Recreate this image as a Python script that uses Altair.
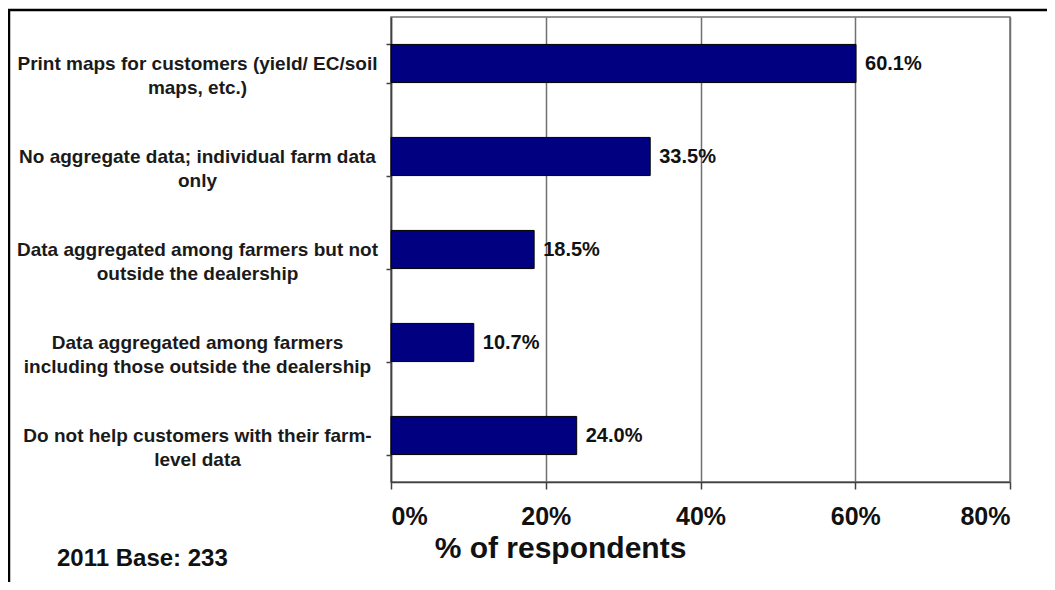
import altair as alt
import pandas as pd

categories = [
    "Print maps for customers (yield/ EC/soil\nmaps, etc.)",
    "No aggregate data; individual farm data\nonly",
    "Data aggregated among farmers but not\noutside the dealership",
    "Data aggregated among farmers\nincluding those outside the dealership",
    "Do not help customers with their farm-\nlevel data",
]
values = [60.1, 33.5, 18.5, 10.7, 24.0]
x_ticks = [0, 20, 40, 60, 80]
x_title = "% of respondents"
base_note = ["2011 Base: 233"]

df = pd.DataFrame({"category": categories, "value": values})
note_df = pd.DataFrame({"note": base_note})

FONT = "Liberation Sans"
PLOT_W, PLOT_H = 619, 465
PAD = {"left": 383, "top": 9, "right": 37, "bottom": 100}

y_enc = alt.Y(
    "category:N",
    sort=categories,
    scale=alt.Scale(paddingInner=0.59, paddingOuter=0.295),
    axis=alt.Axis(
        title=None,
        labelExpr="split(datum.label, '\\n')",
        labelAlign="center",
        labelBaseline="middle",
        labelPadding=189,
        labelFontSize=19,
        labelFontWeight="bold",
        labelLineHeight=24,
        labelLimit=420,
        labelColor="#1a1a1a",
        labelFont=FONT,
        tickBand="extent",
        tickSize=5,
        tickColor="#404040",
        tickWidth=1.5,
        domainColor="#404040",
        domainWidth=1.5,
        grid=False,
    ),
)

x_enc = alt.X(
    "value:Q",
    scale=alt.Scale(domain=[0, 80], nice=False),
    axis=alt.Axis(
        values=x_ticks,
        labelExpr="datum.value + '%'",
        labelFontSize=25,
        labelFontWeight="bold",
        labelFont=FONT,
        labelColor="#111111",
        labelPadding=15,
        labelBaseline="top",
        tickSize=7,
        tickColor="#404040",
        tickWidth=1.5,
        domainColor="#404040",
        domainWidth=1.5,
        grid=True,
        gridColor="#707070",
        gridWidth=1.5,
        title=x_title,
        titleFontSize=30,
        titleFontWeight="bold",
        titleFont=FONT,
        titleColor="#111111",
        titleX=169,
        titleY=75,
        titleAlign="center",
        titleBaseline="alphabetic",
    ),
)

bars = alt.Chart(df).mark_bar(
    color="#000080", stroke="#000000", strokeWidth=1
).encode(x=x_enc, y=y_enc)

labels = alt.Chart(df).transform_calculate(
    label="format(datum.value, '.1f') + '%'"
).mark_text(
    align="left", baseline="middle", dx=9, fontSize=20, fontWeight="bold",
    font=FONT, color="#111111"
).encode(
    x=alt.X("value:Q"),
    y=alt.Y("category:N", sort=categories),
    text="label:N",
)

note = alt.Chart(note_df).mark_text(
    align="left", baseline="alphabetic", fontSize=24, fontWeight="bold",
    font=FONT, color="#111111"
).encode(
    x=alt.value(-334), y=alt.value(549), text="note:N"
)

top_border = alt.Chart(note_df).mark_rule(color="#000000", strokeWidth=2.5).encode(
    x=alt.value(-383), x2=alt.value(656), y=alt.value(-7)
)
left_border = alt.Chart(note_df).mark_rule(color="#000000", strokeWidth=2.5).encode(
    x=alt.value(-382), y=alt.value(-8), y2=alt.value(600)
)

chart = alt.layer(bars, labels, note, top_border, left_border).properties(
    width=PLOT_W,
    height=PLOT_H,
    autosize=alt.AutoSizeParams(type="none"),
    padding=PAD,
    background="white",
).configure_view(
    stroke="#707070", strokeWidth=1.5
)

chart.save("out.html", embed_options={"renderer": "svg", "actions": False})
